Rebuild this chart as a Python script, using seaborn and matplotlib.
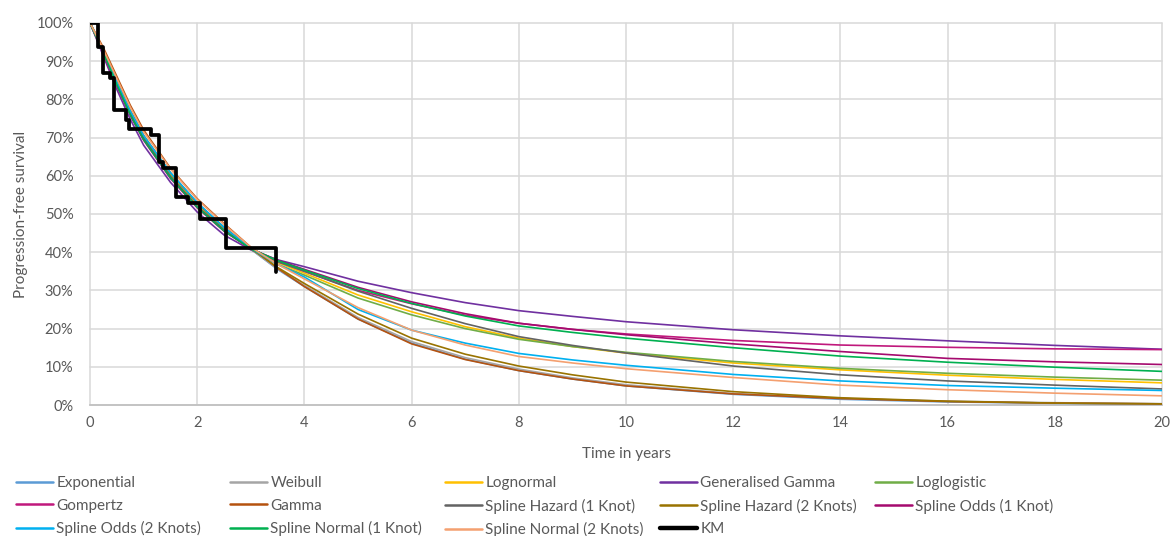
import matplotlib
matplotlib.use("Agg")
import matplotlib.pyplot as plt
from matplotlib.ticker import PercentFormatter, MultipleLocator
from matplotlib.lines import Line2D
import seaborn as sns

# ─── Datos ──────────────────────────────────────────────────────────────────

TIEMPOS = [0, 0.25, 0.5, 0.75, 1, 1.5, 2, 2.5, 3, 3.5, 4, 5, 6, 7, 8, 9, 10, 12, 14, 16, 18, 20]

EXPONENTIAL = [100, 92.5, 84.5, 77, 70.5, 60.8, 52.8, 46.5, 40.8, 35.5, 31, 22.5, 16.2, 12, 9, 6.8, 5.0, 2.8, 1.5, 0.8, 0.45, 0.25]
WEIBULL     = [100, 92.2, 84.3, 76.8, 70.3, 60.6, 52.7, 46.4, 40.8, 35.6, 31.3, 22.9, 16.6, 12.4, 9.4, 7.1, 5.3, 3.0, 1.7, 1.0, 0.6, 0.35]
LOGNORMAL   = [100, 92.8, 84.8, 77, 70.3, 60.3, 52.3, 46, 41, 37.3, 34.5, 28.8, 24.4, 20.5, 17.5, 15.3, 13.6, 11.0, 9.2, 7.8, 6.7, 5.8]
GEN_GAMMA   = [100, 91.3, 82.6, 74.8, 68, 58.3, 50.5, 44.5, 40.6, 38, 36.2, 32.4, 29.4, 26.8, 24.7, 23.2, 21.8, 19.7, 18.1, 16.8, 15.6, 14.6]
LOGLOGISTIC = [100, 92.3, 84, 76.5, 70, 60, 52, 45.8, 40.8, 36.8, 34, 28, 23.6, 20, 17.2, 15.3, 13.8, 11.4, 9.6, 8.3, 7.3, 6.5]
GOMPERTZ    = [100, 91.8, 83.5, 75.8, 69.3, 59.3, 51.6, 45.5, 40.9, 37.6, 35, 30, 26.5, 23.5, 21.4, 19.8, 18.6, 16.9, 15.7, 15.1, 14.7, 14.5]
GAMMA       = [100, 93.5, 86, 78.5, 72, 62, 54, 47.5, 41.3, 35.8, 31, 22.5, 16.0, 11.9, 9.0, 6.8, 5.0, 2.9, 1.7, 0.9, 0.5, 0.3]
SPL_HAZ_1   = [100, 92.3, 84, 76.3, 69.8, 59.8, 52, 45.8, 41, 37.5, 35, 29.8, 25.3, 21.3, 17.9, 15.6, 13.6, 10.2, 7.9, 6.3, 5.2, 4.2]
SPL_HAZ_2   = [100, 92.5, 84.5, 77, 70.5, 60.8, 52.8, 46.5, 41, 36, 31.8, 23.8, 17.5, 13.3, 10.2, 7.9, 6.0, 3.5, 1.9, 1.0, 0.5, 0.3]
SPL_ODDS_1  = [100, 92.2, 83.8, 76, 69.5, 59.5, 51.8, 45.6, 40.9, 37.9, 35.5, 30.8, 27, 23.9, 21.4, 19.8, 18.4, 16.0, 14.0, 12.2, 11.3, 10.6]
SPL_ODDS_2  = [100, 92.5, 84.5, 77, 70.5, 60.8, 53, 46.5, 41, 36.8, 33.5, 25, 19.6, 16.2, 13.5, 11.8, 10.4, 8.0, 6.3, 5.1, 4.4, 3.8]
SPL_NORM_1  = [100, 92.2, 83.8, 76, 69.5, 59.5, 51.8, 45.6, 40.9, 37.8, 35.3, 30.5, 26.6, 23.3, 20.7, 19.0, 17.5, 15.0, 12.8, 11.2, 9.9, 8.8]
SPL_NORM_2  = [100, 93, 85.5, 78, 71.5, 61.8, 53.8, 47.3, 41.3, 36.8, 33, 25.5, 19.6, 15.7, 12.7, 11.0, 9.5, 7.2, 5.2, 4.0, 3.1, 2.4]

# Kaplan-Meier (escalones)
KM_TIEMPOS = [0, 0.14, 0.25, 0.37, 0.45, 0.68, 0.72, 1.13, 1.29, 1.37, 1.60, 1.83, 2.06, 2.53, 3.47]
KM_SURV    = [100, 93.8, 86.8, 85.5, 77.2, 74.5, 72.2, 70.7, 63.7, 62.0, 54.4, 52.8, 48.7, 41.0, 34.9]

# Nombre → (serie, color)
MODELOS = {
    "Exponential":            (EXPONENTIAL, "#5B9BD5"),
    "Weibull":                (WEIBULL,     "#A5A5A5"),
    "Lognormal":              (LOGNORMAL,   "#FFC000"),
    "Generalised Gamma":      (GEN_GAMMA,   "#7030A0"),
    "Loglogistic":            (LOGLOGISTIC, "#70AD47"),
    "Gompertz":               (GOMPERTZ,    "#C0187C"),
    "Gamma":                  (GAMMA,       "#B5520F"),
    "Spline Hazard (1 Knot)": (SPL_HAZ_1,   "#636363"),
    "Spline Hazard (2 Knots)":(SPL_HAZ_2,   "#997300"),
    "Spline Odds (1 Knot)":   (SPL_ODDS_1,  "#A50A6E"),
    "Spline Odds (2 Knots)":  (SPL_ODDS_2,  "#00B0F0"),
    "Spline Normal (1 Knot)": (SPL_NORM_1,  "#00B050"),
    "Spline Normal (2 Knots)":(SPL_NORM_2,  "#F4A070"),
}

# ─── Estilo ─────────────────────────────────────────────────────────────────

sns.set_style("white")
plt.rcParams["font.family"] = ["Lato", "DejaVu Sans"]
GRIS_TEXTO = "#595959"
GRIS_REJILLA = "#D9D9D9"

fig = plt.figure(figsize=(11.74, 5.36), dpi=100)
ax = fig.add_axes([0.0767, 0.2444, 0.9131, 0.7127])

for nombre, (serie, color) in MODELOS.items():
    sns.lineplot(x=TIEMPOS, y=serie, color=color, linewidth=1.2, ax=ax, zorder=3)

sns.lineplot(x=KM_TIEMPOS, y=KM_SURV, color="black", linewidth=2.7,
             drawstyle="steps-post", ax=ax, zorder=5)

ax.set_xlim(0, 20)
ax.set_ylim(0, 100)
ax.xaxis.set_major_locator(MultipleLocator(2))
ax.yaxis.set_major_locator(MultipleLocator(10))
ax.yaxis.set_major_formatter(PercentFormatter(xmax=100, decimals=0))
ax.grid(True, color=GRIS_REJILLA, linewidth=1.1, zorder=0)
for linea in ax.get_xgridlines() + ax.get_ygridlines():
    linea.set_clip_on(False)
for lado in ["top", "right", "left"]:
    ax.spines[lado].set_visible(False)
ax.spines["bottom"].set_color("#BFBFBF")
ax.spines["bottom"].set_linewidth(1.2)
ax.tick_params(axis="both", length=0, labelsize=10.5, labelcolor=GRIS_TEXTO)
ax.tick_params(axis="x", pad=8)
ax.tick_params(axis="y", pad=12)

ax.set_xlabel("Time in years", fontsize=11, color=GRIS_TEXTO)
ax.set_ylabel("Progression-free survival", fontsize=11, color=GRIS_TEXTO)
ax.xaxis.set_label_coords(0.5, -0.11)
ax.yaxis.set_label_coords(-0.058, 0.5)

# ─── Leyenda: 5 columnas de ancho fijo, rellenas por filas ─────────────────

entradas = [(n, c) for n, (_, c) in MODELOS.items()]
entradas.append(("KM", "black"))
COLUMNAS_X = [16, 230, 445, 660, 875]
for j, x0 in enumerate(COLUMNAS_X):
    items = entradas[j::5]
    handles = [Line2D([], [], color=c, linewidth=3.2 if n == "KM" else 1.8) for n, c in items]
    fig.legend(handles, [n for n, _ in items], loc="upper left",
               bbox_to_anchor=(x0 / 1174, 1 - 476 / 536), frameon=False,
               fontsize=11, labelcolor=GRIS_TEXTO, handlelength=2.4,
               handletextpad=0.25, labelspacing=0.56, borderpad=0, borderaxespad=0)

fig.savefig("out.png", dpi=100)
